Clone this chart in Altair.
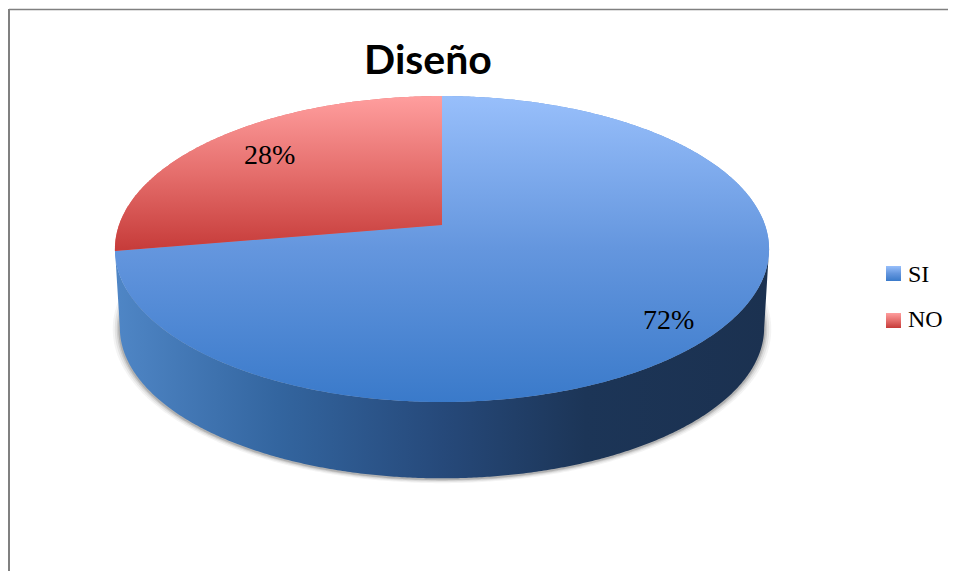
import math
import altair as alt

CATEGORIES = ["SI", "NO"]
SHARES = [72.3, 27.7]
LABELS = ["72%", "28%"]
TITLE = "Diseño"

W, H = 940, 563
CX, CY = 434, 217      # pie centre inside the plot area
A, B, K = 323.0, 149.2, 0.157   # perspective disc
DEPTH, SHRINK = 79, 0.985
PROJ = dict(type="identity", scale=1, translate=[0, 0])
NOSTROKE = dict(stroke="transparent", strokeWidth=0)


def rim(frac, r=1.0, cy=CY, s=1.0):
    t = 2 * math.pi * frac
    u, v = math.sin(t) * r, math.cos(t) * r
    d = 1 + K * v
    return [CX + s * A * u / d, cy - s * B * v / d]


def feature(name, ring):
    return {"type": "Feature", "properties": {"name": name},
            "geometry": {"type": "Polygon", "coordinates": [ring + [ring[0]]]}}


def sector(name, f0, f1):
    n = max(2, int((f1 - f0) * 720))
    pts = [rim(f0 + (f1 - f0) * i / n) for i in range(n + 1)]
    return feature(name, [[CX, CY]] + pts)


def outline(name, s, cy):
    return feature(name, [rim(i / 720, 1.0, cy, s) for i in range(720)])


f_si = SHARES[0] / sum(SHARES)
sectors = [sector(CATEGORIES[0], 0, f_si), sector(CATEGORIES[1], f_si, 1)]

t0 = math.acos(-K) / (2 * math.pi)
upper = [rim(t0 + (1 - 2 * t0) * i / 400) for i in range(401)]
lower = [rim(t0 + (1 - 2 * t0) * i / 400, 1.0, CY + DEPTH, SHRINK) for i in range(401)]
wall = [feature("wall", upper + lower[::-1])]


def geo(values):
    return alt.Data(values=values, format=alt.DataFormat(type="json"))


def grad(stops, x2=0, y2=1):
    return alt.LinearGradient(gradient="linear", x1=0, y1=0, x2=x2, y2=y2,
                              stops=[alt.GradientStop(offset=o, color=c) for o, c in stops])


BLUE = grad([(0, "#98BFFB"), (0.5, "#6496DE"), (1, "#3A7ACA")])
RED = grad([(0, "#FF9E9E"), (0.5, "#E56E6C"), (1, "#C63B39")])
SIDE = grad([(0, "#4F86C6"), (0.25, "#33659F"), (0.5, "#26497A"),
             (0.72, "#1C3557"), (1, "#1B3150")], x2=1, y2=0)

layers = []
# frame
layers.append(alt.Chart(alt.Data(values=[{}])).mark_rule(color="#808080", strokeWidth=2)
              .encode(x=alt.value(1), y=alt.value(1), y2=alt.value(H)))
layers.append(alt.Chart(alt.Data(values=[{}])).mark_rule(color="#808080", strokeWidth=1.5)
              .encode(x=alt.value(1), x2=alt.value(W), y=alt.value(1.5)))
# soft shadow under the disc
for grow, op in [(7, 0.05), (5, 0.08), (3, 0.12), (1.5, 0.18)]:
    layers.append(alt.Chart(geo([outline("shadow", SHRINK + grow / A, CY + DEPTH + 1)]))
                  .mark_geoshape(fill="#303030", fillOpacity=op, **NOSTROKE)
                  .project(**PROJ))
# flat sectors carry the legend
layers.append(alt.Chart(geo(sectors)).mark_geoshape(**NOSTROKE).encode(
    color=alt.Color("properties.name:N",
                    scale=alt.Scale(domain=CATEGORIES, range=["#6496DE", "#E56E6C"]),
                    legend=alt.Legend(title=None, orient="none", legendX=870, legendY=255,
                                      symbolType="square", symbolSize=225, symbolOpacity=0,
                                      labelFont="Liberation Serif", labelFontSize=24,
                                      labelColor="#000000", rowPadding=21, labelOffset=6))
).project(**PROJ))
layers.append(alt.Chart(geo(wall)).mark_geoshape(fill=SIDE, **NOSTROKE).project(**PROJ))
layers.append(alt.Chart(geo([sectors[0]])).mark_geoshape(fill=BLUE, **NOSTROKE).project(**PROJ))
layers.append(alt.Chart(geo([sectors[1]])).mark_geoshape(fill=RED, **NOSTROKE).project(**PROJ))

# labels
si_pos = rim(f_si / 2, 0.85)
no_pos = rim(f_si + (1 - f_si) / 2, 0.85)
for lab, pos, dx, dy in [(LABELS[0], si_pos, -3, 7), (LABELS[1], no_pos, 21, 6)]:
    layers.append(alt.Chart(alt.Data(values=[{"lon": pos[0], "lat": pos[1], "label": lab}]))
                  .mark_text(font="Liberation Serif", fontSize=28, color="#000000", dx=dx, dy=dy)
                  .encode(longitude="lon:Q", latitude="lat:Q", text="label:N")
                  .project(**PROJ))

# gradient legend swatches
for cat, fill, yy in [(CATEGORIES[0], BLUE, 265.5), (CATEGORIES[1], RED, 312.5)]:
    layers.append(alt.Chart(alt.Data(values=[{"lon": 885.5, "lat": yy, "name": cat}]))
                  .mark_square(size=225, fill=fill, opacity=1, **NOSTROKE)
                  .encode(longitude="lon:Q", latitude="lat:Q")
                  .project(**PROJ))

chart = alt.layer(*layers).properties(
    width=W, height=H, padding=0, autosize=alt.AutoSizeParams(type="none"),
    title=alt.TitleParams(TITLE, font="Lato", fontSize=41, fontWeight="bold", color="#000000",
                          frame="group", anchor="middle", dx=-50, dy=79)
).configure_view(stroke=None)

chart.save("out.html", embed_options={"renderer": "svg", "actions": False})
